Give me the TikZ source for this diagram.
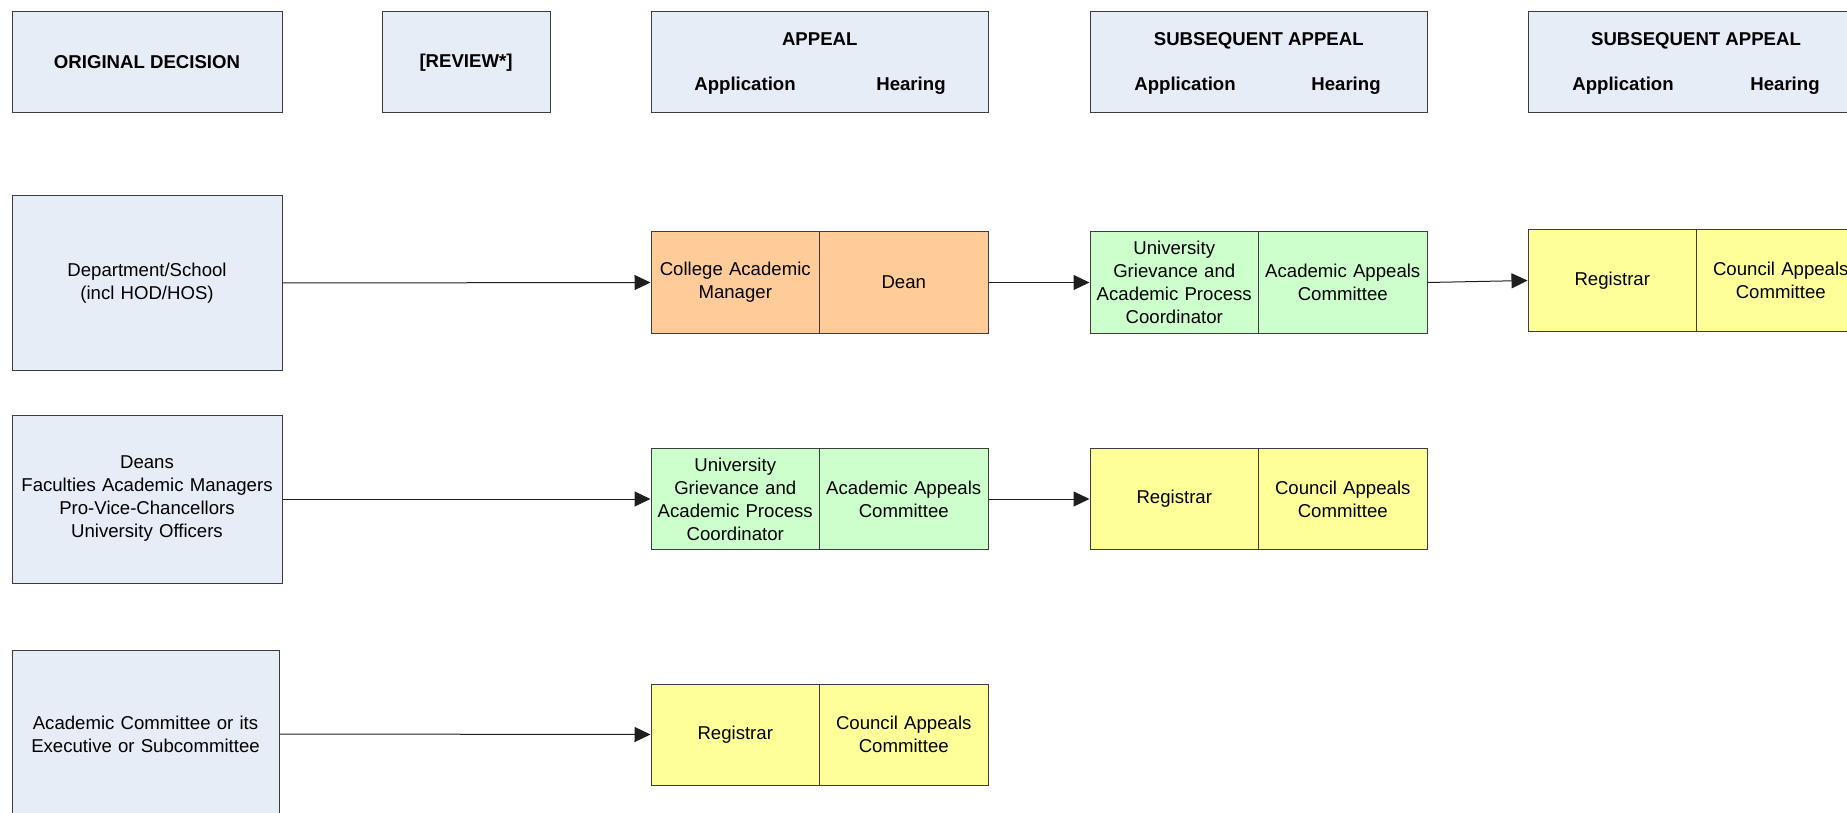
\documentclass[tikz,border=0pt]{standalone}
\usepackage{fontspec}
\setmainfont{Liberation Sans}
\usetikzlibrary{arrows.meta}

\begin{document}
\begin{tikzpicture}[x=1pt,y=1pt,yscale=-1,xscale=1,
  box/.style={draw={rgb, 255:red, 60; green, 60; blue, 60},line width=1pt,fill={rgb, 255:red, 231; green, 237; blue, 247},align=center,inner sep=0pt,font=\fontsize{18.6}{23}\selectfont},
  hdrbox/.style={box,minimum height=101},
  hdrtext/.style={font=\fontsize{18.6}{23}\selectfont\bfseries,inner sep=0pt,anchor=base},
  srcbox/.style={box,minimum width=270,text width=262},
  half/.style={box,minimum width=168.5,minimum height=101,text width=162},
  cellorange/.style={half,fill={rgb, 255:red, 255; green, 204; blue, 153}},
  cellgreen/.style={half,fill={rgb, 255:red, 204; green, 255; blue, 204}},
  cellyellow/.style={half,fill={rgb, 255:red, 255; green, 255; blue, 153}},
  arr/.style={-{Triangle[length=16pt,width=15pt]},line width=1pt,color={rgb, 255:red, 30; green, 30; blue, 30}}]
\useasboundingbox (0,0) rectangle (1847,813);

%Header row
\node [hdrbox,minimum width=270,font=\fontsize{18.6}{23}\selectfont\bfseries] (orig) at (147,62.5) {ORIGINAL DECISION};
\node [hdrbox,minimum width=168,font=\fontsize{18.6}{23}\selectfont\bfseries] (review) at (466,62.5) {[REVIEW*]};
\node [hdrbox,minimum width=337] (appeal) at (819.75,62.5) {};
\node [hdrtext] (appealT) at (819.75,46) {APPEAL};
\node [hdrtext] (appealA) at (745,91) {Application};
\node [hdrtext] (appealH) at (911,91) {Hearing};
\node [hdrbox,minimum width=337] (subA) at (1258.75,62.5) {};
\node [hdrtext] (subAT) at (1258.75,46) {SUBSEQUENT APPEAL};
\node [hdrtext] (subAA) at (1185,91) {Application};
\node [hdrtext] (subAH) at (1346,91) {Hearing};
\node [hdrbox,minimum width=337] (subB) at (1696.75,62.5) {};
\node [hdrtext] (subBT) at (1696,46) {SUBSEQUENT APPEAL};
\node [hdrtext] (subBA) at (1623,91) {Application};
\node [hdrtext] (subBH) at (1785,91) {Hearing};

%Row: Department/School
\node [srcbox,minimum height=174] (dept) at (147,283) {Department/School\\(incl HOD/HOS)};
\node [cellorange] (cam) at (735.25,282.5) {College Academic\\Manager};
\node [cellorange] (dean) at (903.75,282.5) {Dean};
\node [cellgreen] (ugcA) at (1174.25,282.5) {University\\Grievance and\\Academic Process\\Coordinator};
\node [cellgreen] (aacA) at (1342.75,282.5) {Academic Appeals\\Committee};
\node [cellyellow] (regA) at (1612.25,280.5) {Registrar};
\node [cellyellow] (cacA) at (1780.75,280.5) {Council Appeals\\Committee};

%Row: Deans etc.
\node [srcbox,minimum height=168] (deans) at (147,499) {Deans\\Faculties Academic Managers\\Pro-Vice-Chancellors\\University Officers};
\node [cellgreen] (ugcB) at (735.25,499) {University\\Grievance and\\Academic Process\\Coordinator};
\node [cellgreen] (aacB) at (903.75,499) {Academic Appeals\\Committee};
\node [cellyellow] (regB) at (1174.25,499) {Registrar};
\node [cellyellow] (cacB) at (1342.75,499) {Council Appeals\\Committee};

%Row: Academic Committee
\node [srcbox,minimum width=267,minimum height=168] (acad) at (145.5,734) {Academic Committee or its\\Executive or Subcommittee};
\node [cellyellow] (regC) at (735.25,734.5) {Registrar};
\node [cellyellow] (cacC) at (903.75,734.5) {Council Appeals\\Committee};

%Connectors
\draw [arr] (dept.east) -- (cam.west);
\draw [arr] (dean.east) -- (ugcA.west);
\draw [arr] (aacA.east) -- (regA.west);
\draw [arr] (deans.east) -- (ugcB.west);
\draw [arr] (aacB.east) -- (regB.west);
\draw [arr] (acad.east) -- (regC.west);

\end{tikzpicture}
\end{document}
